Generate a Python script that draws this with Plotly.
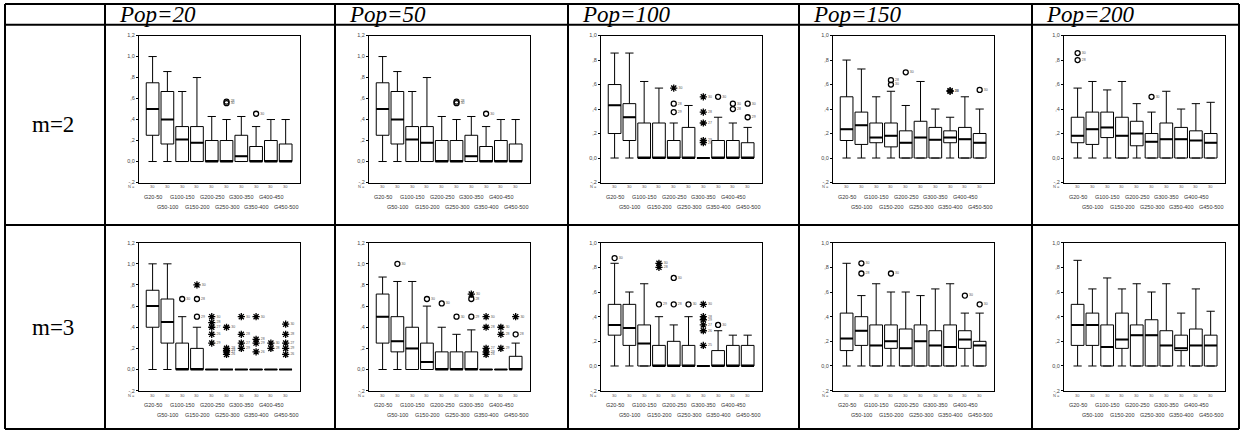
import plotly.graph_objects as go

W, H = 1243, 441

GROUPS = ["G20-50", "G50-100", "G100-150", "G150-200", "G200-250",
          "G250-300", "G300-350", "G350-400", "G400-450", "G450-500"]
POP_HEADERS = ["Pop=20", "Pop=50", "Pop=100", "Pop=150", "Pop=200"]
M_LABELS = ["m=2", "m=3"]
N_PER_GROUP = [30, 30, 30, 30, 30, 30, 30, 30, 30, 30]
LOWER = [0, 0, 0, 0, 0, 0, 0, 0, 0, 0]
Y_TICKS_12 = [-0.2, 0.0, 0.2, 0.4, 0.6, 0.8, 1.0, 1.2]
Y_TEXT_12 = ["-,2", "0,0", ",2", ",4", ",6", ",8", "1,0", "1,2"]
Y_MAX = [[1.2, 1.2, 1.0, 1.0, 1.0], [1.2, 1.2, 1.0, 1.0, 1.0]]

# ---------------- m = 2 ----------------
m2_p20_q1 = [0.25, 0.167, 0, 0, 0, 0, 0, 0, 0, 0]
m2_p20_med = [0.5, 0.4, 0.21, 0.18, 0, 0, 0.05, 0, 0, 0]
m2_p20_q3 = [0.75, 0.667, 0.333, 0.333, 0.2, 0.2, 0.25, 0.143, 0.2, 0.167]
m2_p20_hi = [1.0, 0.857, 0.667, 0.8, 0.429, 0.4, 0.429, 0.333, 0.4, 0.4]
m2_p20_out = [(5, 0.571, "o", "28"), (5, 0.556, "o", "30"), (7, 0.455, "o", "30")]

m2_p50_q1 = [0.25, 0.167, 0, 0, 0, 0, 0, 0, 0, 0]
m2_p50_med = [0.5, 0.4, 0.21, 0.18, 0, 0, 0.05, 0, 0, 0]
m2_p50_q3 = [0.75, 0.667, 0.333, 0.333, 0.2, 0.2, 0.25, 0.143, 0.2, 0.167]
m2_p50_hi = [1.0, 0.857, 0.667, 0.8, 0.429, 0.4, 0.429, 0.333, 0.4, 0.4]
m2_p50_out = [(5, 0.571, "o", "28"), (5, 0.556, "o", "30"), (7, 0.455, "o", "30")]

m2_p100_q1 = [0.2, 0.143, 0, 0, 0, 0, 0, 0, 0, 0]
m2_p100_med = [0.43, 0.333, 0, 0, 0, 0, 0, 0, 0, 0]
m2_p100_q3 = [0.6, 0.444, 0.286, 0.286, 0.143, 0.25, 0, 0.143, 0.143, 0.125]
m2_p100_hi = [0.857, 0.857, 0.625, 0.571, 0.286, 0.429, 0, 0.333, 0.286, 0.25]
m2_p100_out = [(4, 0.571, "*", "30"), (4, 0.444, "o", "28"), (4, 0.375, "o", "29"),
               (6, 0.5, "*", "30"), (6, 0.375, "*", "28"), (6, 0.286, "*", "27"),
               (6, 0.143, "*", "29"), (6, 0.125, "*", "26"),
               (7, 0.5, "o", "30"), (8, 0.444, "o", "30"), (8, 0.4, "o", "28"),
               (9, 0.444, "o", "30"), (9, 0.333, "o", "29")]

m2_p150_q1 = [0.143, 0.111, 0.125, 0.091, 0, 0, 0, 0.125, 0, 0]
m2_p150_med = [0.235, 0.267, 0.167, 0.182, 0.125, 0.167, 0.15, 0.167, 0.154, 0.125]
m2_p150_q3 = [0.5, 0.375, 0.286, 0.286, 0.222, 0.3, 0.25, 0.222, 0.25, 0.2]
m2_p150_hi = [0.8, 0.727, 0.5, 0.545, 0.429, 0.625, 0.4, 0.333, 0.5, 0.4]
m2_p150_out = [(3, 0.636, "o", "28"), (3, 0.6, "o", "30"), (4, 0.7, "o", "30"),
               (7, 0.55, "*", "30"), (7, 0.545, "*", "28"), (9, 0.556, "o", "30")]

m2_p200_q1 = [0.125, 0.111, 0.167, 0, 0.1, 0, 0, 0, 0, 0]
m2_p200_med = [0.182, 0.235, 0.25, 0.182, 0.2, 0.133, 0.154, 0.154, 0.143, 0.125]
m2_p200_q3 = [0.333, 0.375, 0.375, 0.333, 0.3, 0.2, 0.286, 0.25, 0.222, 0.2]
m2_p200_hi = [0.571, 0.625, 0.556, 0.625, 0.444, 0.375, 0.545, 0.4, 0.444, 0.455]
m2_p200_out = [(0, 0.857, "o", "30"), (0, 0.8, "o", "28"), (5, 0.5, "o", "30")]

# ---------------- m = 3 ----------------
m3_p20_q1 = [0.4, 0.25, 0, 0, 0, 0, 0, 0, 0, 0]
m3_p20_med = [0.6, 0.45, 0, 0, 0, 0, 0, 0, 0, 0]
m3_p20_q3 = [0.75, 0.667, 0.25, 0.2, 0, 0, 0, 0, 0, 0]
m3_p20_hi = [1.0, 1.0, 0.5, 0.4, 0, 0, 0, 0, 0, 0]
m3_p20_out = [(2, 0.667, "o", "30"), (3, 0.8, "*", "30"), (3, 0.667, "o", "28"),
              (3, 0.5, "o", "29"),
              (4, 0.5, "*", "30"), (4, 0.444, "*", "28"), (4, 0.4, "*", "27"),
              (4, 0.333, "*", "26"), (4, 0.25, "*", "29"),
              (5, 0.4, "*", "30"), (5, 0.2, "*", "28"), (5, 0.182, "*", "29"),
              (5, 0.167, "*", "27"), (5, 0.143, "*", "26"),
              (6, 0.5, "*", "30"), (6, 0.333, "*", "28"), (6, 0.25, "*", "27"),
              (6, 0.2, "*", "29"),
              (7, 0.5, "*", "30"), (7, 0.286, "*", "28"), (7, 0.25, "*", "29"),
              (7, 0.167, "*", "26"),
              (8, 0.25, "*", "30"), (8, 0.2, "*", "28"),
              (9, 0.429, "*", "30"), (9, 0.333, "*", "28"), (9, 0.25, "*", "27"),
              (9, 0.2, "*", "29"), (9, 0.143, "*", "26")]

m3_p50_q1 = [0.25, 0.167, 0, 0, 0, 0, 0, 0, 0, 0]
m3_p50_med = [0.5, 0.267, 0.2, 0.071, 0, 0, 0, 0, 0, 0]
m3_p50_q3 = [0.714, 0.5, 0.4, 0.25, 0.167, 0.167, 0.167, 0, 0, 0.125]
m3_p50_hi = [0.875, 0.833, 0.833, 0.6, 0.4, 0.333, 0.375, 0, 0, 0.25]
m3_p50_out = [(1, 1.0, "o", "30"), (3, 0.667, "o", "30"), (4, 0.625, "o", "30"),
              (5, 0.5, "o", "30"),
              (6, 0.714, "*", "30"), (6, 0.667, "o", "28"), (6, 0.5, "o", "29"),
              (7, 0.5, "*", "30"), (7, 0.4, "*", "28"), (7, 0.2, "*", "27"),
              (7, 0.167, "*", "29"), (7, 0.143, "*", "26"),
              (8, 0.4, "*", "30"), (8, 0.333, "*", "28"), (8, 0.2, "*", "29"),
              (9, 0.5, "*", "30"), (9, 0.333, "o", "28")]

m3_p100_q1 = [0.25, 0.167, 0, 0, 0, 0, 0, 0, 0, 0]
m3_p100_med = [0.333, 0.308, 0.182, 0, 0, 0, 0, 0, 0, 0]
m3_p100_q3 = [0.5, 0.5, 0.333, 0.167, 0.2, 0.167, 0, 0.125, 0.167, 0.167]
m3_p100_hi = [0.833, 0.6, 0.667, 0.4, 0.333, 0.4, 0, 0.286, 0.25, 0.25]
m3_p100_out = [(0, 0.875, "o", "30"), (3, 0.833, "*", "30"), (3, 0.8, "*", "28"),
               (3, 0.5, "o", "29"), (4, 0.714, "o", "30"), (4, 0.5, "o", "28"),
               (5, 0.5, "o", "30"),
               (6, 0.5, "*", "30"), (6, 0.4, "*", "28"), (6, 0.375, "*", "29"),
               (6, 0.333, "*", "27"), (6, 0.286, "*", "26"), (6, 0.167, "*", "25"),
               (7, 0.333, "o", "30")]

m3_p150_q1 = [0.125, 0.167, 0, 0.143, 0, 0, 0, 0, 0.143, 0]
m3_p150_med = [0.222, 0.286, 0.167, 0.2, 0.143, 0.2, 0.167, 0.154, 0.214, 0.167]
m3_p150_q3 = [0.429, 0.4, 0.333, 0.333, 0.3, 0.333, 0.286, 0.333, 0.286, 0.2]
m3_p150_hi = [0.833, 0.571, 0.667, 0.6, 0.6, 0.571, 0.625, 0.667, 0.429, 0.429]
m3_p150_out = [(1, 0.833, "o", "30"), (1, 0.75, "o", "28"), (3, 0.75, "o", "30"),
               (8, 0.571, "o", "30"), (9, 0.5, "o", "30")]

m3_p200_q1 = [0.167, 0.167, 0, 0.143, 0, 0, 0, 0.125, 0, 0]
m3_p200_med = [0.333, 0.333, 0.154, 0.214, 0.25, 0.25, 0.167, 0.143, 0.167, 0.167]
m3_p200_q3 = [0.5, 0.429, 0.333, 0.429, 0.333, 0.375, 0.286, 0.25, 0.3, 0.25]
m3_p200_hi = [0.857, 0.625, 0.714, 0.625, 0.667, 0.6, 0.667, 0.429, 0.625, 0.444]
m3_p200_out = []

PANELS = [
    [(m2_p20_q1, m2_p20_med, m2_p20_q3, m2_p20_hi, m2_p20_out),
     (m2_p50_q1, m2_p50_med, m2_p50_q3, m2_p50_hi, m2_p50_out),
     (m2_p100_q1, m2_p100_med, m2_p100_q3, m2_p100_hi, m2_p100_out),
     (m2_p150_q1, m2_p150_med, m2_p150_q3, m2_p150_hi, m2_p150_out),
     (m2_p200_q1, m2_p200_med, m2_p200_q3, m2_p200_hi, m2_p200_out)],
    [(m3_p20_q1, m3_p20_med, m3_p20_q3, m3_p20_hi, m3_p20_out),
     (m3_p50_q1, m3_p50_med, m3_p50_q3, m3_p50_hi, m3_p50_out),
     (m3_p100_q1, m3_p100_med, m3_p100_q3, m3_p100_hi, m3_p100_out),
     (m3_p150_q1, m3_p150_med, m3_p150_q3, m3_p150_hi, m3_p150_out),
     (m3_p200_q1, m3_p200_med, m3_p200_q3, m3_p200_hi, m3_p200_out)],
]

# ---------------- layout geometry (pixels) ----------------
COL_LINES = [5, 105, 335, 568, 799, 1032, 1239]
ROW_LINES = [1, 22, 225, 432]
PANEL_X = [(139, 300), (369, 530), (601, 762), (833, 994), (1064, 1225)]
PANEL_Y = [(33, 182), (243, 393)]
X_RANGE = [-0.92, 9.97]
BOX_W = 0.86


def fx(p):
    return p / W


def fy(p):
    return 1 - p / H


fig = go.Figure()
layout = dict(
    width=W, height=H, margin=dict(l=0, r=0, t=0, b=0),
    paper_bgcolor="white", plot_bgcolor="white", showlegend=False,
    font=dict(family="Liberation Sans, Arial", color="black"),
)
annotations = []
shapes = []

k = 0
for r in range(2):
    for c in range(5):
        k += 1
        xa = "x" if k == 1 else f"x{k}"
        ya = "y" if k == 1 else f"y{k}"
        q1, med, q3, hi, outs = PANELS[r][c]
        xs = list(range(len(GROUPS)))
        fig.add_trace(go.Box(
            x=xs, q1=q1, median=med, q3=q3, lowerfence=LOWER, upperfence=hi,
            width=BOX_W, whiskerwidth=0.65, fillcolor="white",
            line=dict(color="black", width=1), xaxis=xa, yaxis=ya,
            hoverinfo="skip", showlegend=False,
        ))
        # thicker median lines
        mx, my = [], []
        for i, m in enumerate(med):
            mx += [i - BOX_W / 2, i + BOX_W / 2, None]
            my += [m, m, None]
        fig.add_trace(go.Scatter(x=mx, y=my, mode="lines",
                                 line=dict(color="black", width=2),
                                 xaxis=xa, yaxis=ya, hoverinfo="skip"))
        # outliers
        for kind, sym, sz in (("o", "circle-open", 5), ("*", "asterisk-open", 6)):
            sel = [o for o in outs if o[2] == kind]
            if sel:
                fig.add_trace(go.Scatter(
                    x=[o[0] for o in sel], y=[o[1] for o in sel],
                    mode="markers+text", text=[o[3] for o in sel],
                    textposition="middle right",
                    textfont=dict(size=3.5, color="#555"),
                    marker=dict(symbol=sym, size=sz, color="black",
                                line=dict(color="black", width=1.3)),
                    xaxis=xa, yaxis=ya, hoverinfo="skip", cliponaxis=False))
        ymax = Y_MAX[r][c]
        tv = [v for v in Y_TICKS_12 if v <= ymax + 1e-9]
        tt = Y_TEXT_12[:len(tv)]
        x0, x1 = PANEL_X[c]
        y0, y1 = PANEL_Y[r]
        layout["xaxis" if k == 1 else f"xaxis{k}"] = dict(
            domain=[fx(x0), fx(x1)], anchor=ya, range=X_RANGE,
            showline=True, mirror=True, linecolor="black", linewidth=1,
            showgrid=False, zeroline=False, showticklabels=False, ticks="",
            fixedrange=True)
        layout["yaxis" if k == 1 else f"yaxis{k}"] = dict(
            domain=[fy(y1), fy(y0)], anchor=xa, range=[-0.2, ymax],
            tickvals=tv, ticktext=tt, ticks="outside", ticklen=2, tickwidth=1,
            tickcolor="black", tickfont=dict(size=5.5, color="#444"),
            showline=True, mirror=True, linecolor="black", linewidth=1,
            showgrid=False, zeroline=False, fixedrange=True)
        # below-axis labels
        annotations.append(dict(x=fx(x0 - 2), y=fy(y1 + 4.5), xref="paper", yref="paper",
                                text="N =", showarrow=False, xanchor="right",
                                yanchor="middle", font=dict(size=4, color="#555")))
        for i, g in enumerate(GROUPS):
            annotations.append(dict(x=i, y=fy(y1 + 4.5), xref=xa, yref="paper",
                                    text=str(N_PER_GROUP[i]), showarrow=False,
                                    yanchor="middle", font=dict(size=4, color="#555")))
            off = 14.5 if i % 2 == 0 else 24.5
            annotations.append(dict(x=i, y=fy(y1 + off), xref=xa, yref="paper",
                                    text=g, showarrow=False, yanchor="middle",
                                    font=dict(size=5.5, color="#333")))

# table headers
for c, h in enumerate(POP_HEADERS):
    annotations.append(dict(x=fx(COL_LINES[c + 1] + 12), y=fy(12), xref="paper", yref="paper",
                            text=f"<i>{h}</i>", showarrow=False, xanchor="left",
                            yanchor="middle",
                            font=dict(family="Liberation Serif, Times New Roman", size=23,
                                      color="black")))
for r, m in enumerate(M_LABELS):
    annotations.append(dict(x=fx(53), y=fy((ROW_LINES[r + 1] + ROW_LINES[r + 2]) / 2),
                            xref="paper", yref="paper", text=m, showarrow=False,
                            xanchor="center", yanchor="middle",
                            font=dict(family="Liberation Serif, Times New Roman", size=23,
                                      color="black")))

for xl in COL_LINES:
    shapes.append(dict(type="line", xref="paper", yref="paper", x0=fx(xl), x1=fx(xl),
                       y0=fy(ROW_LINES[0]), y1=fy(ROW_LINES[-1]),
                       line=dict(color="black", width=2)))
for yl in ROW_LINES:
    shapes.append(dict(type="line", xref="paper", yref="paper", x0=fx(COL_LINES[0]),
                       x1=fx(COL_LINES[-1]), y0=fy(yl), y1=fy(yl),
                       line=dict(color="black", width=2)))

layout["annotations"] = annotations
layout["shapes"] = shapes
fig.update_layout(**layout)
fig.write_html("out.html", config={"displayModeBar": False, "staticPlot": True},
               post_script="document.body.style.margin='0';document.body.style.padding='0';")
